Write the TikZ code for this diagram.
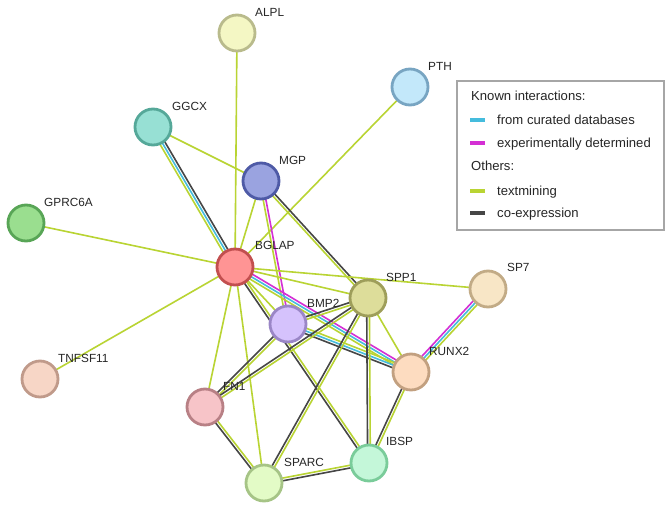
\documentclass[tikz,border=0pt]{standalone}
\usepackage{fontspec}
\setmainfont{Liberation Sans}
\usetikzlibrary{calc,backgrounds}

% evidence colours
\definecolor{dbcol}{HTML}{45BCDD}
\definecolor{excol}{HTML}{D42FD4}
\definecolor{tmcol}{HTML}{B9D433}
\definecolor{cocol}{HTML}{464646}
% protein colours (fill / rim)
\definecolor{alplF}{HTML}{F4F7C4}\definecolor{alplD}{HTML}{B9BB8C}
\definecolor{pthF}{HTML}{C3E8FA}\definecolor{pthD}{HTML}{78A5C2}
\definecolor{ggcxF}{HTML}{97E0D4}\definecolor{ggcxD}{HTML}{55A899}
\definecolor{mgpF}{HTML}{9AA3E0}\definecolor{mgpD}{HTML}{4E5AA6}
\definecolor{gprcF}{HTML}{9ADE8F}\definecolor{gprcD}{HTML}{58A556}
\definecolor{bglapF}{HTML}{FF9494}\definecolor{bglapD}{HTML}{C24F4F}
\definecolor{sppF}{HTML}{DDDD9A}\definecolor{sppD}{HTML}{9E9E5A}
\definecolor{spsevF}{HTML}{F8E6C6}\definecolor{spsevD}{HTML}{C2AB86}
\definecolor{bmpF}{HTML}{D5C2FC}\definecolor{bmpD}{HTML}{9A86C6}
\definecolor{runxF}{HTML}{FDDCC0}\definecolor{runxD}{HTML}{C2A080}
\definecolor{tnfF}{HTML}{F7D6C6}\definecolor{tnfD}{HTML}{C09A8A}
\definecolor{fnF}{HTML}{F7C4C8}\definecolor{fnD}{HTML}{B88085}
\definecolor{ibspF}{HTML}{C4F7D9}\definecolor{ibspD}{HTML}{7ACC9A}
\definecolor{sparcF}{HTML}{E3FBC6}\definecolor{sparcD}{HTML}{A6C486}

\tikzset{
  prot/.style={circle, line width=2.8pt, minimum size=36pt, inner sep=0pt},
  plabel/.style={anchor=west, inner sep=0pt, text depth=0pt, text=black!85,
    font=\fontsize{11.8}{14}\selectfont},
  legtext/.style={anchor=west, inner sep=0pt, text depth=0pt, text=black!85,
    font=\fontsize{13.1}{16}\selectfont},
  legswatch/.style={line width=4pt},
  dbline/.style={draw=dbcol, line width=1.6pt},
  exline/.style={draw=excol, line width=1.6pt},
  tmline/.style={draw=tmcol, line width=1.6pt},
  coline/.style={draw=cocol, line width=1.6pt},
}

% parallel evidence lines between two proteins: {style/offset, ...}
\newcommand{\evlines}[3]{%
  \foreach \sty/\off in {#3}
    \draw[\sty] ($(#1)!\off pt!90:(#2)$) -- ($(#2)!\off pt!-90:(#1)$);
}

\begin{document}
\begin{tikzpicture}[x=1pt, y=-1pt]
\useasboundingbox (0,0) rectangle (669,511);

% proteins
\node[prot, fill=alplF, draw=alplD] (alpl) at (237,33) {};
\node[prot, fill=pthF, draw=pthD] (pth) at (410,87) {};
\node[prot, fill=ggcxF, draw=ggcxD] (ggcx) at (153,127) {};
\node[prot, fill=mgpF, draw=mgpD] (mgp) at (261,181) {};
\node[prot, fill=gprcF, draw=gprcD] (gprc) at (26,223) {};
\node[prot, fill=bglapF, draw=bglapD] (bglap) at (235,267) {};
\node[prot, fill=sppF, draw=sppD] (spp) at (368,298) {};
\node[prot, fill=spsevF, draw=spsevD] (spsev) at (488,289) {};
\node[prot, fill=bmpF, draw=bmpD] (bmp) at (288,324) {};
\node[prot, fill=runxF, draw=runxD] (runx) at (411,372) {};
\node[prot, fill=tnfF, draw=tnfD] (tnf) at (40,379) {};
\node[prot, fill=fnF, draw=fnD] (fn) at (205,407) {};
\node[prot, fill=ibspF, draw=ibspD] (ibsp) at (369,463) {};
\node[prot, fill=sparcF, draw=sparcD] (sparc) at (264,483) {};

% names, up and right of each circle
\node[plabel] (alpl-l) at ($(alpl)+(18,-21)$) {ALPL};
\node[plabel] (pth-l) at ($(pth)+(18,-21)$) {PTH};
\node[plabel] (ggcx-l) at ($(ggcx)+(19,-21)$) {GGCX};
\node[plabel] (mgp-l) at ($(mgp)+(18,-21)$) {MGP};
\node[plabel] (gprc-l) at ($(gprc)+(18,-21)$) {GPRC6A};
\node[plabel] (bglap-l) at ($(bglap)+(20,-22)$) {BGLAP};
\node[plabel] (spp-l) at ($(spp)+(18,-21)$) {SPP1};
\node[plabel] (spsev-l) at ($(spsev)+(19,-22)$) {SP7};
\node[plabel] (bmp-l) at ($(bmp)+(19,-21)$) {BMP2};
\node[plabel] (runx-l) at ($(runx)+(18,-21)$) {RUNX2};
\node[plabel] (tnf-l) at ($(tnf)+(18,-21)$) {TNFSF11};
\node[plabel] (fn-l) at ($(fn)+(18,-21)$) {FN1};
\node[plabel] (ibsp-l) at ($(ibsp)+(17,-22)$) {IBSP};
\node[plabel] (sparc-l) at ($(sparc)+(20,-21)$) {SPARC};

\begin{scope}[on background layer]
\fill[white] (0,0) rectangle (669,511);
% interactions
\evlines{alpl}{bglap}{tmline/0}
\evlines{pth}{bglap}{tmline/0}
\evlines{ggcx}{bglap}{tmline/-2.7, dbline/0, coline/2.7}
\evlines{ggcx}{mgp}{tmline/0}
\evlines{mgp}{bglap}{tmline/0}
\evlines{mgp}{bmp}{tmline/-1.35, exline/1.35}
\evlines{mgp}{spp}{tmline/-1.35, coline/1.35}
\evlines{gprc}{bglap}{tmline/0}
\evlines{tnf}{bglap}{tmline/0}
\evlines{bglap}{spp}{tmline/0}
\evlines{bglap}{spsev}{tmline/0}
\evlines{bglap}{bmp}{tmline/0}
\evlines{bglap}{runx}{tmline/-2.7, dbline/0, exline/2.7}
\evlines{bglap}{fn}{tmline/0}
\evlines{bglap}{sparc}{tmline/0}
\evlines{bglap}{ibsp}{coline/-1.35, tmline/1.35}
\evlines{bmp}{spp}{tmline/-1.35, coline/1.35}
\evlines{bmp}{runx}{coline/-2.7, dbline/0, tmline/2.7}
\evlines{bmp}{fn}{coline/-1.35, tmline/1.35}
\evlines{spp}{fn}{coline/-1.35, tmline/1.35}
\evlines{spp}{sparc}{coline/-1.35, tmline/1.35}
\evlines{spp}{ibsp}{coline/-1.35, tmline/1.35}
\evlines{spp}{runx}{tmline/0}
\evlines{runx}{spsev}{tmline/-2.7, dbline/0, exline/2.7}
\evlines{runx}{ibsp}{coline/-1.35, tmline/1.35}
\evlines{fn}{sparc}{coline/-1.35, tmline/1.35}
\evlines{sparc}{ibsp}{coline/-1.35, tmline/1.35}
\end{scope}

% legend
\draw[draw=black!35, line width=1.2pt, fill=white] (457,81) rectangle (664,230);
\node[legtext] (known) at (471,96) {Known interactions:};
\draw[legswatch, dbcol] (470,120) -- (485,120);
\node[legtext] (db-txt) at (497,120) {from curated databases};
\draw[legswatch, excol] (470,143) -- (485,143);
\node[legtext] (ex-txt) at (497,143) {experimentally determined};
\node[legtext] (others) at (471,166) {Others:};
\draw[legswatch, tmcol] (470,191) -- (485,191);
\node[legtext] (tm-txt) at (497,191) {textmining};
\draw[legswatch, cocol] (470,213) -- (485,213);
\node[legtext] (co-txt) at (497,213) {co-expression};
\end{tikzpicture}
\end{document}
